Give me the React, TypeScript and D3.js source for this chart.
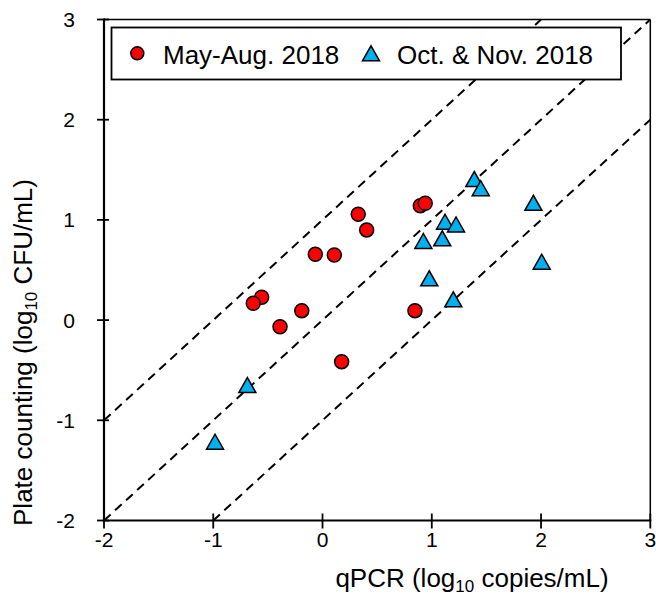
import React from "react";
import * as d3 from "d3";

const mayAugX = [0.327, 0.404, 0.108, -0.066, -0.557, -0.634, -0.19, -0.389, 0.175, 0.895, 0.94, 0.846];
const mayAugY = [1.056, 0.9, 0.65, 0.657, 0.228, 0.168, 0.094, -0.066, -0.415, 1.142, 1.166, 0.094];
const octNovX = [1.389, 1.448, 1.93, 1.121, 1.222, 0.923, 1.096, 2.006, 0.977, 1.197, -0.688, -0.984];
const octNovY = [1.408, 1.316, 1.17, 0.982, 0.955, 0.79, 0.816, 0.583, 0.417, 0.208, -0.648, -1.214];
const xTicks = [-2, -1, 0, 1, 2, 3];
const yTicks = [-2, -1, 0, 1, 2, 3];
const refOffsets = [1, 0, -1];
const seriesNames = ["May-Aug. 2018", "Oct. & Nov. 2018"];

const FONT = "Arial, 'Liberation Sans', Helvetica, sans-serif";

export default function App() {
  const W = 656, H = 599;
  const x = d3.scaleLinear().domain([-2, 3]).range([104, 650.3]);
  const y = d3.scaleLinear().domain([-2, 3]).range([520.5, 19.5]);

  const tri = (cx: number, cy: number, w = 17, h = 15) =>
    `M${cx - w / 2},${cy + h / 2}L${cx + w / 2},${cy + h / 2}L${cx},${cy - h / 2}Z`;

  const refLines = refOffsets.map((o) => {
    const x0 = Math.max(-2, -2 - o);
    const x1 = Math.min(3, 3 - o);
    return { x1: x(x0), y1: y(x0 + o), x2: x(x1), y2: y(x1 + o) };
  });

  return (
    <svg width={W} height={H} style={{ position: "absolute", left: 0, top: 0, background: "#fff" }} fontFamily={FONT}>
      <rect width={W} height={H} fill="#fff" />
      {refLines.map((l, i) => (
        <line key={i} {...l} stroke="#000" strokeWidth={2} strokeDasharray="9,6" />
      ))}
      {/* frame */}
      <line x1={x(-2)} y1={y(3)} x2={x(3)} y2={y(3)} stroke="#000" strokeWidth={1.5} />
      <line x1={x(3)} y1={y(3)} x2={x(3)} y2={y(-2)} stroke="#000" strokeWidth={1.5} />
      <line x1={x(-2)} y1={y(3) - 1} x2={x(-2)} y2={y(-2) + 1} stroke="#000" strokeWidth={2.2} />
      <line x1={x(-2) - 1} y1={y(-2)} x2={x(3) + 1} y2={y(-2)} stroke="#000" strokeWidth={2.2} />
      {yTicks.map((t) => (
        <g key={"y" + t}>
          <line x1={x(-2) - 7} x2={x(-2) + 5} y1={y(t)} y2={y(t)} stroke="#000" strokeWidth={1.8} />
          <text x={75} y={y(t)} dy="0.36em" textAnchor="end" fontSize={21}>{t}</text>
        </g>
      ))}
      {xTicks.map((t) => (
        <g key={"x" + t}>
          <line x1={x(t)} x2={x(t)} y1={y(-2) - 7} y2={y(-2) + 8} stroke="#000" strokeWidth={1.8} />
          <text x={x(t)} y={547} textAnchor="middle" fontSize={21}>{t}</text>
        </g>
      ))}
      {/* data */}
      {mayAugX.map((v, i) => (
        <circle key={"c" + i} cx={x(v)} cy={y(mayAugY[i])} r={7} fill="#ff0000" stroke="#000" strokeWidth={1.5} />
      ))}
      {octNovX.map((v, i) => (
        <path key={"t" + i} d={tri(x(v), y(octNovY[i]))} fill="#00b0f0" stroke="#000" strokeWidth={1.5} strokeLinejoin="miter" />
      ))}
      {/* legend */}
      <rect x={111.5} y={27.5} width={509.5} height={52} fill="#fff" stroke="#000" strokeWidth={1.8} />
      <circle cx={137.3} cy={53.3} r={6.5} fill="#ff0000" stroke="#000" strokeWidth={1.5} />
      <text x={163} y={64} fontSize={26}>{seriesNames[0]}</text>
      <path d={tri(371, 53.3)} fill="#00b0f0" stroke="#000" strokeWidth={1.5} />
      <text x={397} y={64} fontSize={26}>{seriesNames[1]}</text>
      {/* axis titles */}
      <text x={472} y={587} textAnchor="middle" fontSize={26}>
        qPCR (log<tspan fontSize={17} dy={5}>10</tspan><tspan dy={-5}> copies/mL)</tspan>
      </text>
      <text transform={`translate(32,352.5) rotate(-90)`} textAnchor="middle" fontSize={26}>
        Plate counting (log<tspan fontSize={17} dy={5}>10</tspan><tspan dy={-5}> CFU/mL)</tspan>
      </text>
    </svg>
  );
}
